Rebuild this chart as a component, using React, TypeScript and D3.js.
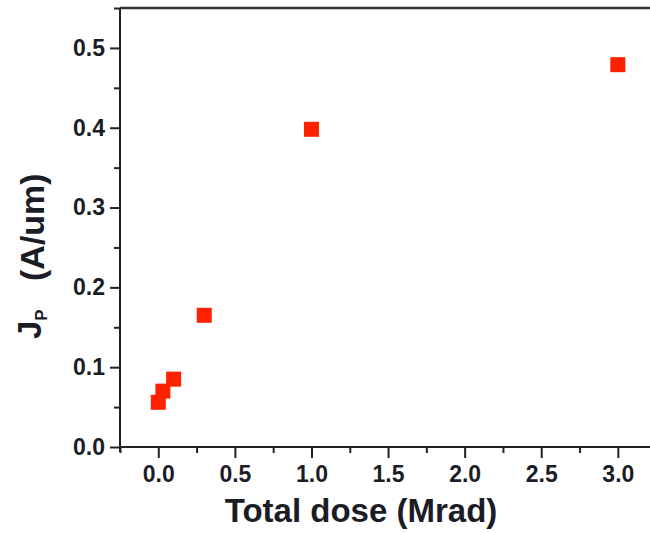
import React, { useEffect, useRef } from "react";
import * as d3 from "d3";

// Total dose (Mrad) vs J_P (A/um)
const doses = [0.0, 0.03, 0.1, 0.3, 1.0, 3.0];
const currents = [0.056, 0.07, 0.085, 0.165, 0.398, 0.479];
const xTicks = [0, 0.5, 1, 1.5, 2, 2.5, 3];
const yTicks = [0, 0.1, 0.2, 0.3, 0.4, 0.5];

const W = 650;
const H = 533;
const FONT = "'Liberation Sans', Arial, sans-serif";
const INK = "#1c1c26";

const App = () => {
  const svgRef = useRef<SVGSVGElement>(null);

  useEffect(() => {
    const svg = d3.select(svgRef.current);
    svg.selectAll("*").remove();

    const left = 120;
    const top = 8;
    const bottom = 447;
    const right = 652;

    const x = d3.scaleLinear().domain([-0.25, 3.21]).range([left, 650]);
    const y = d3.scaleLinear().domain([0, 0.55]).range([bottom, top]);

    const g = svg.append("g");

    // top frame line
    g.append("line")
      .attr("x1", left)
      .attr("x2", right)
      .attr("y1", top)
      .attr("y2", top)
      .attr("stroke", "#333")
      .attr("stroke-width", 2.5);

    // bottom axis
    const xAxis = g
      .append("g")
      .attr("transform", `translate(0,${bottom})`)
      .call(
        d3.axisBottom(x).tickValues(xTicks).tickSize(11).tickPadding(7)
          .tickFormat(d3.format(".1f"))
      );
    xAxis.select(".domain").attr("d", `M${left},0H${right}`);
    g.append("g")
      .attr("transform", `translate(0,${bottom})`)
      .call(
        d3.axisBottom(x)
          .tickValues(d3.range(-0.25, 3.2, 0.5))
          .tickSize(6)
          .tickFormat(() => "")
      )
      .select(".domain")
      .remove();

    // left axis
    const yAxis = g
      .append("g")
      .attr("transform", `translate(${left},0)`)
      .call(
        d3.axisLeft(y).tickValues(yTicks).tickSize(10).tickPadding(5)
          .tickFormat(d3.format(".1f"))
      );
    yAxis.select(".domain").attr("d", `M0,${top}V${bottom + 5}`);
    g.append("g")
      .attr("transform", `translate(${left},0)`)
      .call(
        d3.axisLeft(y)
          .tickValues([0.05, 0.15, 0.25, 0.35, 0.45, 0.55])
          .tickSize(6)
          .tickFormat(() => "")
      )
      .select(".domain")
      .remove();

    g.selectAll(".domain, .tick line")
      .attr("stroke", "#222")
      .attr("stroke-width", 2);
    g.selectAll(".tick text")
      .attr("fill", INK)
      .style("font-family", FONT)
      .style("font-weight", "bold")
      .style("font-size", "23px");
    xAxis.selectAll(".tick text").attr("dy", "0.75em");

    // markers
    const s = 15;
    g.selectAll(".pt")
      .data(doses.map((d, i) => [d, currents[i]]))
      .enter()
      .append("rect")
      .attr("class", "pt")
      .attr("x", (d) => x(d[0]) - s / 2)
      .attr("y", (d) => y(d[1]) - s / 2)
      .attr("width", s)
      .attr("height", s)
      .attr("fill", "#ff2200");

    // axis titles
    svg.append("text")
      .attr("x", 361)
      .attr("y", 522)
      .attr("text-anchor", "middle")
      .attr("fill", INK)
      .style("font-family", FONT)
      .style("font-weight", "bold")
      .style("font-size", "33px")
      .text("Total dose (Mrad)");

    const yt = svg.append("g").attr("transform", "translate(41,339) rotate(-90)");
    const jt = yt.append("text")
      .attr("fill", INK)
      .style("font-family", FONT)
      .style("font-weight", "bold")
      .style("font-size", "33px");
    jt.append("tspan").text("J");
    jt.append("tspan").attr("dy", 6).style("font-size", "17px").text("P");
    yt.append("text")
      .attr("x", 58)
      .attr("y", 3)
      .attr("fill", INK)
      .style("font-family", FONT)
      .style("font-weight", "bold")
      .style("font-size", "34px")
      .text("(A/um)");
  }, []);

  return (
    <svg
      ref={svgRef}
      width={W}
      height={H}
      style={{ position: "absolute", left: 0, top: 0, background: "#fff" }}
    />
  );
};

export default App;
